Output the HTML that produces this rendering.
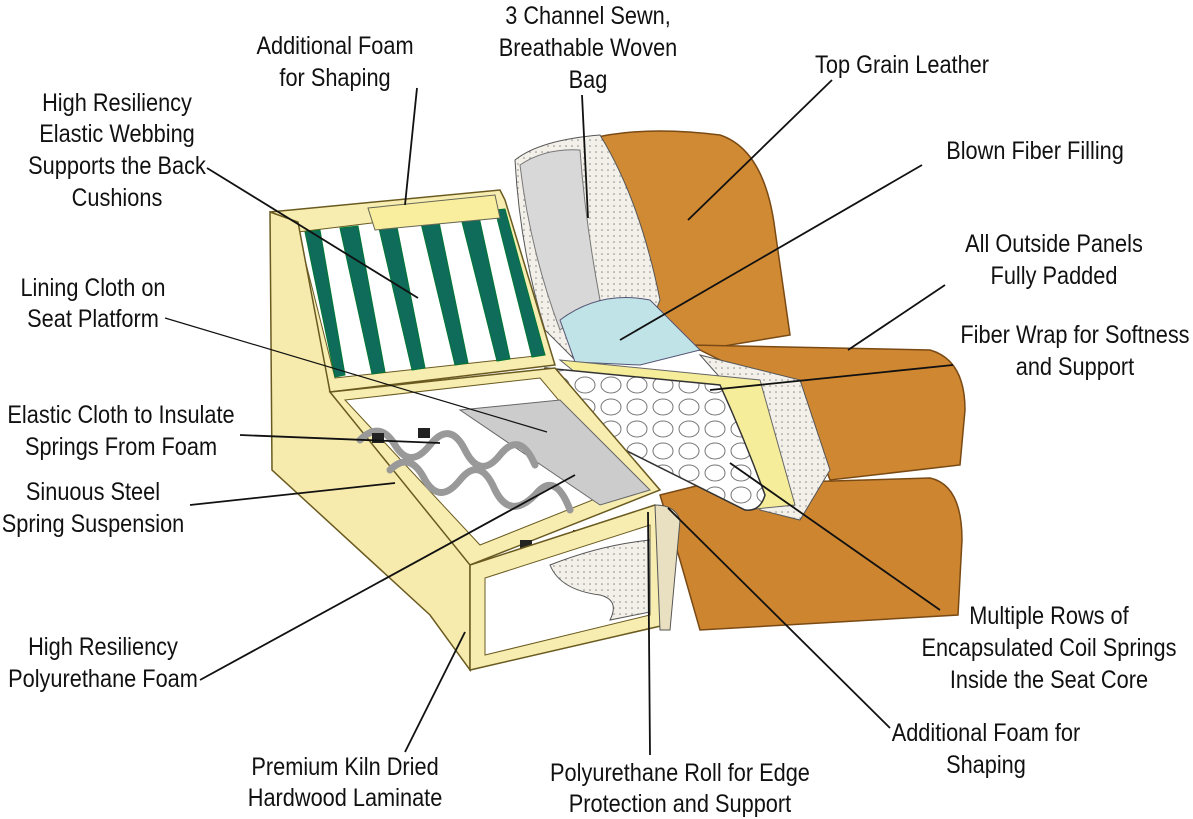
<!DOCTYPE html>
<html><head><meta charset="utf-8"><style>
html,body{margin:0;padding:0;background:#fff;}
.w{position:relative;width:1193px;height:819px;overflow:hidden;}
svg{position:absolute;left:0;top:0;}
.t{font-family:"Liberation Sans",sans-serif;font-size:25px;fill:#111;text-anchor:middle;}
</style></head><body><div class="w">
<svg width="1193" height="819" viewBox="0 0 1193 819">
<defs>
<pattern id="dots" width="6" height="6" patternUnits="userSpaceOnUse"><rect width="6" height="6" fill="#f2f0e8"/><circle cx="2" cy="2" r="0.8" fill="#888"/></pattern>
<pattern id="coil" width="26" height="22" patternUnits="userSpaceOnUse"><rect width="26" height="22" fill="#fff"/><ellipse cx="13" cy="11" rx="10" ry="8" fill="none" stroke="#777" stroke-width="1"/></pattern>
</defs>
<path d="M585,140 Q640,125 720,135 Q765,150 775,230 L790,335 L700,350 L600,360 Z" fill="#d08a33" stroke="#7a4a14" stroke-width="1.5"/>
<path d="M690,345 L930,350 Q965,360 965,410 L960,465 L830,480 L800,400 Z" fill="#cf8731" stroke="#7a4a14" stroke-width="1.5"/>
<path d="M660,495 L700,485 L930,478 Q962,485 962,540 L958,615 L700,630 L680,560 Z" fill="#cd8530" stroke="#7a4a14" stroke-width="1.5"/>
<path d="M515,160 Q540,140 600,135 Q640,200 660,300 L640,350 L580,365 L545,330 Q520,250 515,160 Z" fill="url(#dots)" stroke="#555"/>
<path d="M520,165 Q545,148 580,150 Q585,220 600,300 L560,330 Q530,250 520,165 Z" fill="#d8d8d8" stroke="#777"/>
<path d="M560,320 Q600,290 650,300 L700,350 L640,365 L575,362 Z" fill="#bfe3e6" stroke="#557"/>
<path d="M700,355 L800,380 L830,470 L800,520 L760,510 L740,400 Z" fill="url(#dots)" stroke="#555"/>
<path d="M560,360 L760,380 L795,505 L745,510 Z" fill="#f5ed9a" stroke="#666"/>
<path d="M545,368 L720,385 Q745,440 765,495 Q760,512 745,510 L565,420 Q530,395 545,368 Z" fill="url(#coil)" stroke="#333" stroke-width="1.5"/>
<path d="M270,212 L500,190 L505,200 L555,365 L330,392 L295,222 Z" fill="#f7edb0" stroke="#6a5a20" stroke-width="1.5"/>
<path d="M298,232 L495,208 L545,355 L335,378 Z" fill="#fff" stroke="#6a5a20"/>
<g fill="#0f6b5a" stroke="#073" stroke-width="1">
<path d="M305,232 L320,230 L345,375 L335,377 Z"/>
<path d="M340,228 L358,226 L385,372 L372,374 Z"/>
<path d="M378,224 L396,222 L425,368 L412,370 Z"/>
<path d="M420,219 L438,217 L468,363 L455,365 Z"/>
<path d="M460,214 L478,212 L510,359 L497,361 Z"/>
<path d="M495,210 L505,209 L545,355 L532,357 Z"/>
</g>
<path d="M368,208 L495,195 L500,218 L375,230 Z" fill="#f8ee9e" stroke="#665"/>
<path d="M270,212 L298,222 L330,392 L470,560 L470,670 L430,615 L272,470 Z" fill="#f6ebad" stroke="#6a5a20" stroke-width="1.5"/>
<path d="M330,392 L555,368 L660,490 L470,565 Z" fill="#f7edb0" stroke="#6a5a20" stroke-width="1.5"/>
<path d="M345,400 L540,378 L630,485 L480,545 Z" fill="#fff" stroke="#6a5a20"/>
<path d="M460,410 L560,400 L650,490 L600,505 Z" fill="#ccc" stroke="#666"/>
<g fill="none" stroke="#999" stroke-width="7" stroke-linecap="round">
<path d="M360,440 Q380,420 395,445 Q410,470 430,445 Q450,420 465,450 Q480,480 500,455 Q520,430 535,465"/>
<path d="M390,470 Q410,450 425,480 Q440,505 460,480 Q480,455 495,490 Q510,520 535,495 Q555,470 570,510"/>
</g>
<g fill="#222"><rect x="372" y="433" width="12" height="10"/><rect x="418" y="428" width="12" height="10"/><rect x="520" y="540" width="12" height="10"/><rect x="573" y="530" width="12" height="10"/></g>
<path d="M470,565 L655,505 L665,515 L665,625 L470,670 Z" fill="#f7edb0" stroke="#6a5a20" stroke-width="1.5"/>
<path d="M485,578 L650,525 L650,615 L485,655 Z" fill="#fff" stroke="#6a5a20"/>
<path d="M550,565 Q600,545 650,540 L650,612 L610,620 Q620,600 600,595 Q560,590 550,565 Z" fill="url(#dots)" stroke="#555"/>
<path d="M655,505 Q675,505 680,520 L670,630 L660,630 Z" fill="#e8e0c0" stroke="#555"/>
<g stroke="#111" stroke-width="1.8" fill="none">
<line x1="417" y1="88" x2="405" y2="205"/>
<line x1="582" y1="95" x2="588" y2="218"/>
<line x1="832" y1="80" x2="688" y2="220"/>
<line x1="207" y1="168" x2="418" y2="298"/>
<line x1="922" y1="165" x2="620" y2="340"/>
<line x1="945" y1="285" x2="848" y2="350"/>
<line x1="165" y1="318" x2="547" y2="432" stroke-width="1.2"/>
<line x1="953" y1="365" x2="710" y2="390"/>
<line x1="240" y1="435" x2="440" y2="443"/>
<line x1="190" y1="505" x2="395" y2="483"/>
<line x1="940" y1="610" x2="730" y2="463"/>
<line x1="200" y1="680" x2="575" y2="475"/>
<line x1="890" y1="728" x2="668" y2="508"/>
<line x1="405" y1="752" x2="465" y2="632"/>
<line x1="650" y1="755" x2="648" y2="512"/>
</g>
<g class="t" transform="scale(0.87,1)">
<text x="385.1" y="54">Additional Foam</text><text x="385.1" y="86">for Shaping</text>
<text x="675.9" y="24">3 Channel Sewn,</text><text x="675.9" y="56">Breathable Woven</text><text x="675.9" y="88">Bag</text>
<text x="1036.8" y="73">Top Grain Leather</text>
<text x="134.5" y="111">High Resiliency</text><text x="134.5" y="142">Elastic Webbing</text><text x="134.5" y="174">Supports the Back</text><text x="134.5" y="206">Cushions</text>
<text x="1189.7" y="159">Blown Fiber Filling</text>
<text x="1211.5" y="252">All Outside Panels</text><text x="1211.5" y="284">Fully Padded</text>
<text x="106.9" y="296">Lining Cloth on</text><text x="106.9" y="327">Seat Platform</text>
<text x="1235.6" y="343">Fiber Wrap for Softness</text><text x="1235.6" y="375">and Support</text>
<text x="139.1" y="423">Elastic Cloth to Insulate</text><text x="139.1" y="455">Springs From Foam</text>
<text x="106.9" y="500">Sinuous Steel</text><text x="106.9" y="532">Spring Suspension</text>
<text x="1205.7" y="624">Multiple Rows of</text><text x="1205.7" y="656">Encapsulated Coil Springs</text><text x="1205.7" y="688">Inside the Seat Core</text>
<text x="118.4" y="655">High Resiliency</text><text x="118.4" y="687">Polyurethane Foam</text>
<text x="1133.3" y="741">Additional Foam for</text><text x="1133.3" y="773">Shaping</text>
<text x="396.6" y="775">Premium Kiln Dried</text><text x="396.6" y="806">Hardwood Laminate</text>
<text x="781.6" y="781">Polyurethane Roll for Edge</text><text x="781.6" y="812">Protection and Support</text>
</g>
</svg></div></body></html>
